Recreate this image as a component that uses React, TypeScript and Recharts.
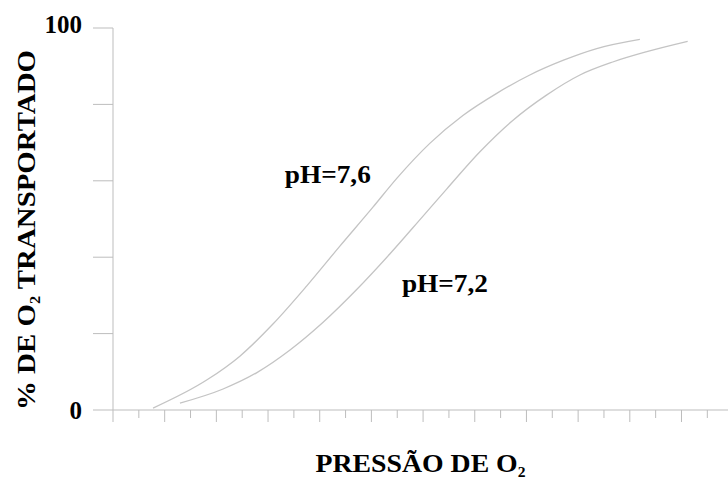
import { LineChart, Line, XAxis, YAxis, ReferenceDot, Label } from 'recharts';

// curva pH 7,6 (desviada para a esquerda)
const ph76Pressure = [1.55, 3.64, 4.91, 6.19, 7.5, 8.78, 10.06, 10.99, 12.26, 13.54, 14.85, 16.13, 17.41, 18.72, 20.39];
const ph76Saturation = [0.5, 7.9, 14.1, 22.5, 32.5, 42.9, 53.1, 60.7, 69.8, 77.1, 82.9, 87.7, 91.5, 94.6, 97.0];

// curva pH 7,2
const ph72Pressure = [2.59, 4.26, 5.57, 6.85, 8.12, 9.44, 10.72, 11.99, 12.92, 14.2, 15.47, 16.79, 18.07, 19.34, 20.66, 22.24];
const ph72Saturation = [1.8, 5.5, 9.8, 15.7, 22.9, 31.6, 40.9, 50.7, 57.9, 67.6, 75.8, 82.5, 87.7, 91.1, 93.8, 96.5];

const pressureTicks = Array.from({ length: 24 }, (_, i) => i);
const percentTicks = [0, 20, 40, 60, 80, 100];
const labeledPercents = [0, 100];

const curveLabels = [
  { text: 'pH=7,6', pressure: 6.65, saturation: 59.4 },
  { text: 'pH=7,2', pressure: 11.18, saturation: 30.9 },
];

const ph76 = ph76Pressure.map((p, i) => ({ pressure: p, saturation: ph76Saturation[i] }));
const ph72 = ph72Pressure.map((p, i) => ({ pressure: p, saturation: ph72Saturation[i] }));

const FONT = '"Liberation Serif", "Times New Roman", serif';
const AXIS = '#bdbdbd';
const CURVE = '#c4c4c4';

function PressureTick(props: any) {
  const { x, y, payload } = props;
  const len = payload.value % 2 === 0 ? 12 : 8;
  return <line x1={x} x2={x} y1={y} y2={y + len} stroke={AXIS} strokeWidth={1} />;
}

function PercentTick(props: any) {
  const { x, y, payload } = props;
  if (!labeledPercents.includes(payload.value)) return null;
  const shift = payload.value === 100 ? -4 : 0;
  return (
    <text x={x} y={y + shift} dy="0.355em" textAnchor="end" fontFamily={FONT} fontWeight="bold" fontSize={25} fill="#000">
      {payload.value}
    </text>
  );
}

function XTitle(props: any) {
  const vb = props.viewBox;
  const cx = vb.x + vb.width / 2;
  return (
    <text x={cx} y={vb.y + 62} textAnchor="middle" fontFamily={FONT} fontWeight="bold" fontSize={25}
      textLength={210} lengthAdjust="spacingAndGlyphs" fill="#000">
      PRESSÃO DE O<tspan fontSize={14} dy={5}>2</tspan>
    </text>
  );
}

function YTitle() {
  const x = 35;
  const y = 230;
  return (
    <text x={x} y={y} transform={`rotate(-90 ${x} ${y})`} textAnchor="middle" fontFamily={FONT}
      fontWeight="bold" fontSize={25} textLength={360} lengthAdjust="spacingAndGlyphs" fill="#000">
      % DE O<tspan fontSize={14} dy={5}>2</tspan><tspan dy={-5}> TRANSPORTADO</tspan>
    </text>
  );
}

export default function App() {
  return (
    <div style={{ position: 'absolute', top: 0, left: 0, width: 728, height: 479, overflow: 'hidden', background: '#fff' }}>
      <LineChart width={728} height={479} margin={{ top: 28, right: 0, left: 0, bottom: 0 }}>
        <XAxis
          xAxisId="top"
          orientation="top"
          type="number"
          dataKey="pressure"
          domain={[0, 23.8]}
          allowDataOverflow
          height={0}
          tick={false}
          tickLine={false}
          axisLine={{ stroke: AXIS }}
        />
        <XAxis
          type="number"
          dataKey="pressure"
          domain={[0, 23.8]}
          allowDataOverflow
          ticks={pressureTicks}
          interval={0}
          height={69}
          tickSize={0}
          tickMargin={0}
          tickLine={false}
          tick={<PressureTick />}
          axisLine={{ stroke: AXIS }}
        >
          <Label content={<XTitle />} />
        </XAxis>
        <YAxis
          type="number"
          domain={[0, 100]}
          ticks={percentTicks}
          interval={0}
          width={113}
          tickSize={20}
          tickMargin={11}
          tickLine={{ stroke: AXIS }}
          axisLine={{ stroke: AXIS }}
          tick={<PercentTick />}
        >
          <Label content={<YTitle />} />
        </YAxis>
        <Line data={ph76} dataKey="saturation" type="monotone" stroke={CURVE} strokeWidth={1.3} dot={false} isAnimationActive={false} />
        <Line data={ph72} dataKey="saturation" type="monotone" stroke={CURVE} strokeWidth={1.3} dot={false} isAnimationActive={false} />
        {curveLabels.map((c) => (
          <ReferenceDot
            key={c.text}
            x={c.pressure}
            y={c.saturation}
            r={0}
            stroke="none"
            fill="none"
            ifOverflow="visible"
            label={{
              content: (p: any) => (
                <text x={p.viewBox.x} y={p.viewBox.y} fontFamily={FONT} fontWeight="bold" fontSize={25}
                  textLength={86} lengthAdjust="spacingAndGlyphs" fill="#000">
                  {c.text}
                </text>
              ),
            }}
          />
        ))}
      </LineChart>
    </div>
  );
}
